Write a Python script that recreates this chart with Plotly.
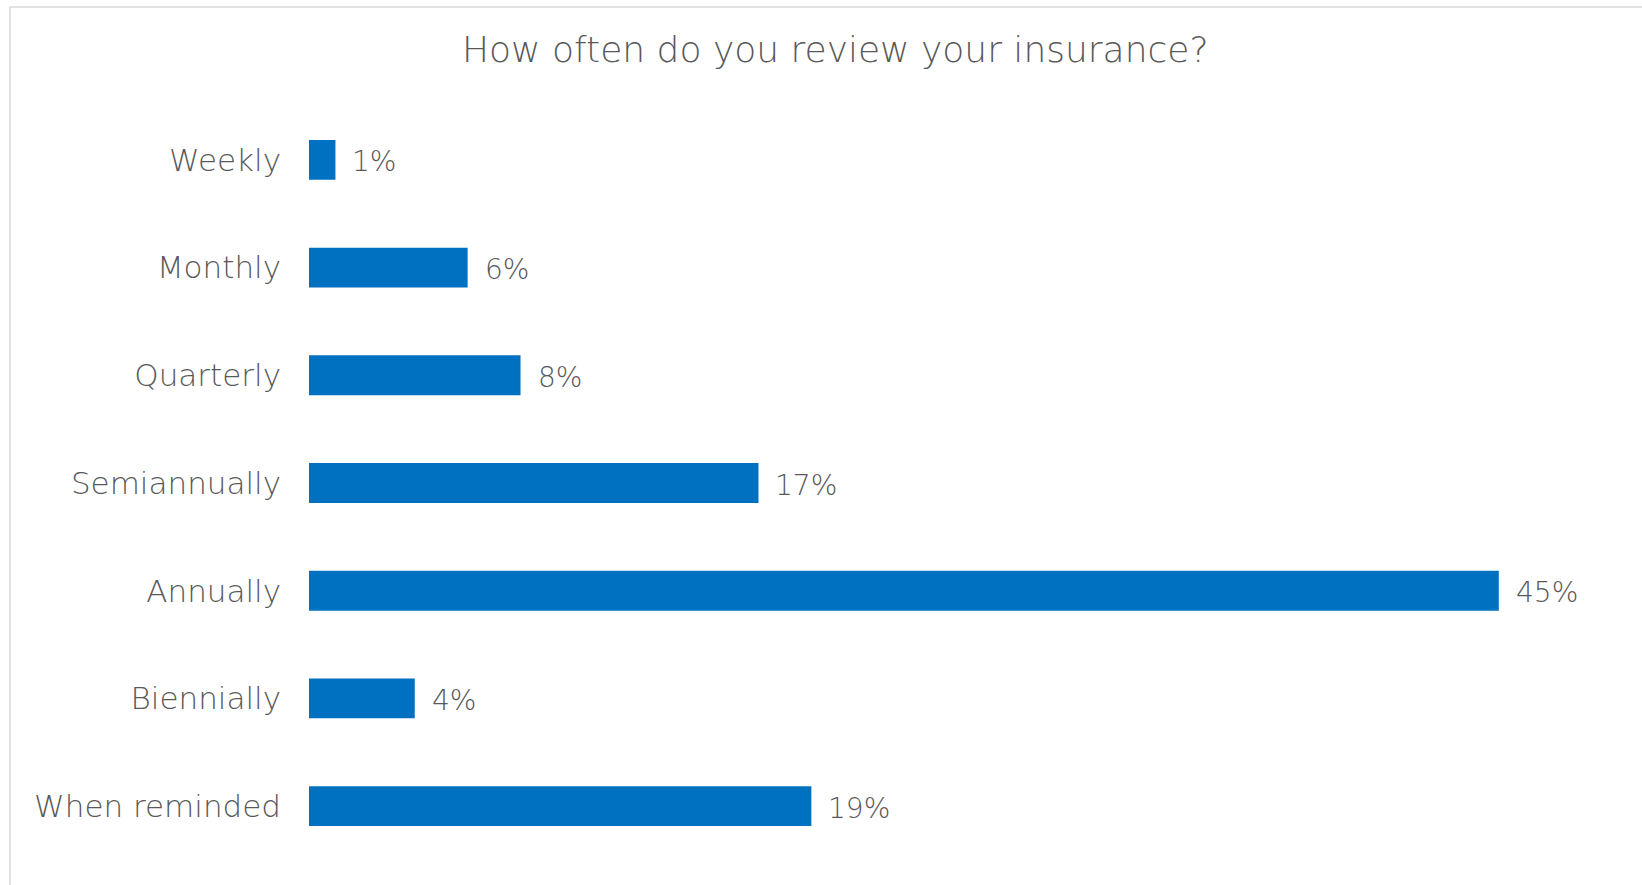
import plotly.graph_objects as go

# Survey responses: how often people review their insurance
categories = ["Weekly", "Monthly", "Quarterly", "Semiannually", "Annually", "Biennially", "When reminded"]
shares = [1, 6, 8, 17, 45, 4, 19]
title_text = "How often do you review your insurance?"

W, H = 1642, 885
L, R, T, B = 309, 11, 106, 25
PW, PH = W - L - R, H - T - B

FONT = "DejaVu Sans"
WEIGHT = 200
GRAY = "#595959"
BLUE = "#0070C0"


def px_x(p):
    return (p - L) / PW


def px_y(p):
    return (H - B - p) / PH


fig = go.Figure(
    go.Bar(
        x=shares,
        y=categories,
        orientation="h",
        width=0.37,
        marker=dict(color=BLUE, line=dict(width=0)),
        hoverinfo="skip",
    )
)

# value labels to the right of each bar
for cat, v in zip(categories, shares):
    fig.add_annotation(
        x=v, y=cat, xref="x", yref="y",
        text=f"{v}%", showarrow=False,
        xanchor="left", yanchor="middle", xshift=15, yshift=-2,
        font=dict(family=FONT, size=28, color=GRAY, weight=WEIGHT),
    )

# chart title
fig.add_annotation(
    x=px_x(835), y=px_y(50), xref="paper", yref="paper",
    text=title_text, showarrow=False,
    xanchor="center", yanchor="middle",
    font=dict(family=FONT, size=36, color=GRAY, weight=WEIGHT),
)

# chart frame (top and left edges visible)
frame = dict(color="#D9D9D9", width=1.5)
fig.add_shape(type="line", xref="paper", yref="paper",
              x0=px_x(10), x1=px_x(W + 20), y0=px_y(7), y1=px_y(7), line=frame)
fig.add_shape(type="line", xref="paper", yref="paper",
              x0=px_x(10), x1=px_x(10), y0=px_y(7), y1=px_y(H + 20), line=frame)

fig.update_layout(
    width=W, height=H,
    margin=dict(l=L, r=R, t=T, b=B, autoexpand=False),
    paper_bgcolor="white", plot_bgcolor="white",
    showlegend=False,
    xaxis=dict(range=[0, 50], visible=False, fixedrange=True),
    yaxis=dict(
        autorange="reversed",
        showgrid=False, zeroline=False, showline=False, ticks="",
        ticklabelstandoff=27,
        tickfont=dict(family=FONT, size=31, color=GRAY, weight=WEIGHT),
        fixedrange=True,
    ),
)

fig.write_html("out.html", config={"displayModeBar": False})
